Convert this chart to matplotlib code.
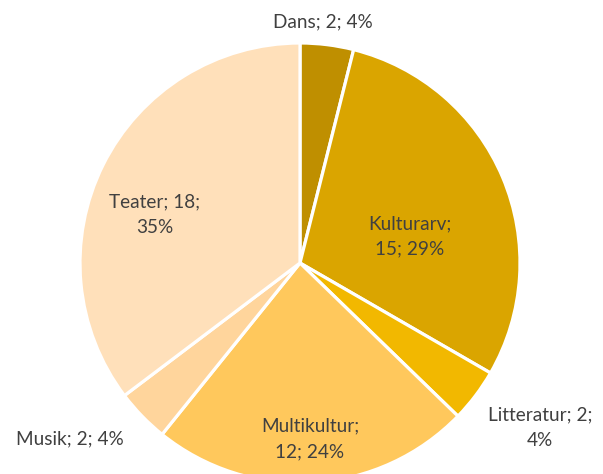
import matplotlib
matplotlib.use("Agg")
import matplotlib.pyplot as plt

categories = ["Dans", "Kulturarv", "Litteratur", "Multikultur", "Musik", "Teater"]
values = [2, 15, 2, 12, 2, 18]
percent_labels = ["4%", "29%", "4%", "24%", "4%", "35%"]
colors = ["#BF8F00", "#DAA500", "#F2B800", "#FFC85C", "#FFD59C", "#FFE0BA"]

label_texts = [
    "Dans; 2; 4%",
    "Kulturarv;\n15; 29%",
    "Litteratur; 2;\n4%",
    "Multikultur;\n12; 24%",
    "Musik; 2; 4%",
    "Teater; 18;\n35%",
]
label_pos = [(0.105, 1.095), (0.50, 0.12), (1.09, -0.75), (0.045, -0.80), (-1.045, -0.80), (-0.66, 0.22)]

W, H = 603, 474
fig = plt.figure(figsize=(W / 100, H / 100), dpi=100)
ax = fig.add_axes([0, 0, 1, 1])
cx, cy, r = 300, 263, 220
ax.pie(values, colors=colors, startangle=90, counterclock=False, radius=1,
       wedgeprops=dict(edgecolor="white", linewidth=2.3))
ax.set_xlim(-cx / r, (W - cx) / r)
ax.set_ylim(-(H - cy) / r, cy / r)
ax.set_aspect("auto")
ax.axis("off")

for t, (x, y) in zip(label_texts, label_pos):
    ax.text(x, y, t, ha="center", va="center", fontsize=13.7, color="#404040",
            family=["Lato", "DejaVu Sans"], linespacing=1.6)

fig.savefig("out.png", dpi=100)
